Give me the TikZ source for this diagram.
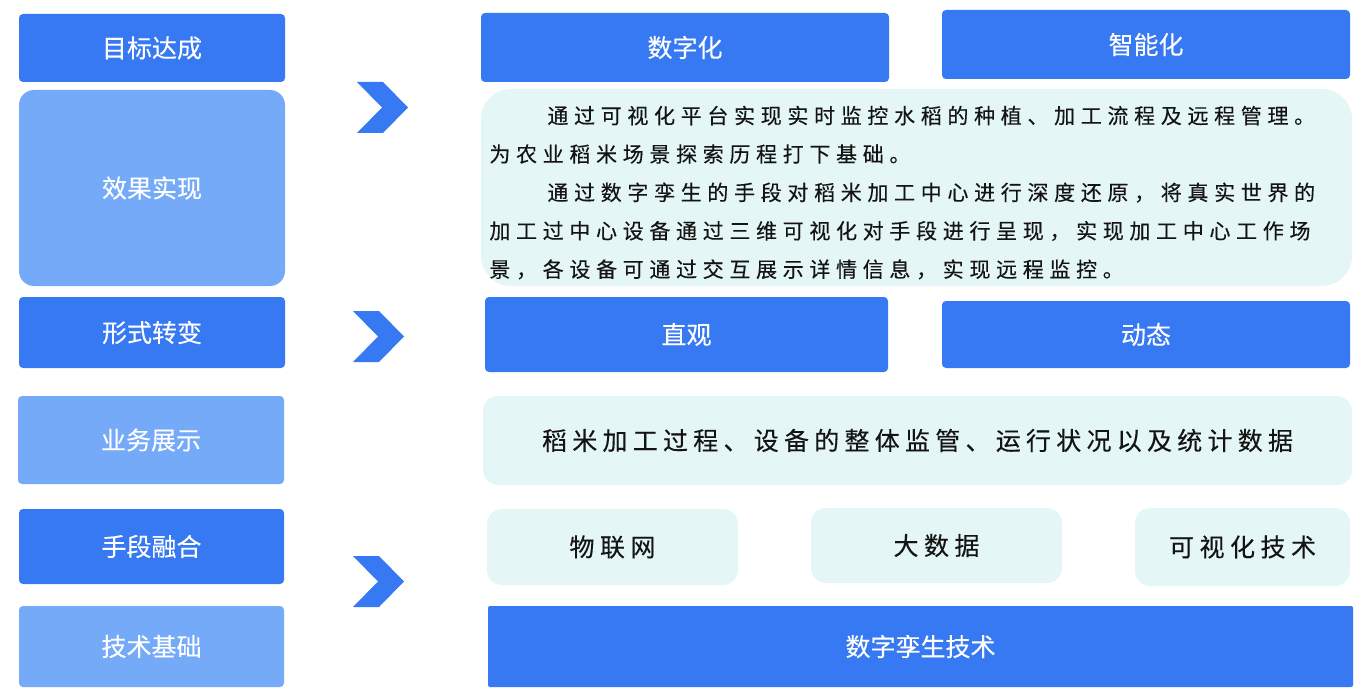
\documentclass[tikz,border=0pt]{standalone}
\usepackage{fontspec}
\setmainfont{Noto Sans CJK SC}
\newfontfamily\labelfont[FakeBold=0.15]{Noto Sans CJK SC}
\newfontfamily\parafont[LetterSpace=27,FakeBold=0.25]{Noto Sans CJK SC}
\newfontfamily\tagfont[LetterSpace=22,FakeBold=0.25]{Noto Sans CJK SC}
\newfontfamily\scopefont[LetterSpace=21,FakeBold=0.25]{Noto Sans CJK SC}
\usetikzlibrary{positioning}
\definecolor{bluedk}{RGB}{55,121,242}
\definecolor{bluelt}{RGB}{116,170,247}
\definecolor{cyanbg}{RGB}{228,246,246}
\definecolor{ink}{RGB}{20,20,20}
\tikzset{
  dkbox/.style={fill=bluedk, rounded corners=2pt, text=white, inner sep=0pt,
    font=\labelfont\fontsize{12.5}{15}\selectfont},
  ltbox/.style={dkbox, fill=bluelt},
  cybox/.style={fill=cyanbg, rounded corners=7.5pt, text=ink, inner sep=0pt,
    font=\tagfont\fontsize{12.5}{15}\selectfont},
  paraline/.style={anchor=base west, inner sep=0pt, text=ink,
    font=\parafont\fontsize{10.5}{12}\selectfont},
  chev/.style={fill=bluedk}
}

\begin{document}
\begin{tikzpicture}[x=1pt,y=-1pt]
  \useasboundingbox (0,0) rectangle (684,350);

  % left column
  \node[dkbox, minimum width=133pt, minimum height=34pt] (goal) at (76,24) {目标达成};
  \node[ltbox, rounded corners=7.5pt, minimum width=133pt, minimum height=98pt] (effect) at (76,94) {效果实现};
  \node[dkbox, minimum width=133pt, minimum height=35.5pt] (form) at (76,166.25) {形式转变};
  \node[ltbox, minimum width=133pt, minimum height=44pt] (show) at (75.5,220) {业务展示};
  \node[dkbox, minimum width=132.5pt, minimum height=37.5pt] (means) at (75.75,273.25) {手段融合};
  \node[ltbox, minimum width=132.5pt, minimum height=40.5pt] (base) at (75.75,323.25) {技术基础};

  % chevrons
  \foreach \cx/\cy in {178.5/41, 176.5/155.5, 176.5/278}
    \fill[chev] (\cx,\cy) -- ++(13,0) -- ++(12.5,12.75) -- ++(-12.5,12.75)
      -- ++(-13,0) -- ++(12.5,-12.75) -- cycle;

  % goal row
  \node[dkbox, minimum width=204pt, minimum height=34.5pt] (digit) at (342.5,23.75) {数字化};
  \node[dkbox, minimum width=204pt, minimum height=34.5pt] (smart) at (573,22.25) {智能化};

  % effect text
  \node[cybox, rounded corners=15pt, minimum width=435.5pt, minimum height=98.5pt] (desc) at (458.25,93.75) {};
  \node[paraline] (l1) at (273.5,61.8) {通过可视化平台实现实时监控水稻的种植、加工流程及远程管理。};
  \node[paraline] (l2) at (244.5,81.0) {为农业稻米场景探索历程打下基础。};
  \node[paraline] (l3) at (273.5,100.2) {通过数字孪生的手段对稻米加工中心进行深度还原，将真实世界的};
  \node[paraline] (l4) at (244.5,119.4) {加工过中心设备通过三维可视化对手段进行呈现，实现加工中心工作场};
  \node[paraline] (l5) at (244.5,138.6) {景，各设备可通过交互展示详情信息，实现远程监控。};

  % form row
  \node[dkbox, minimum width=201.5pt, minimum height=37.5pt] (direct) at (343.25,167.25) {直观};
  \node[dkbox, minimum width=204pt, minimum height=33.5pt] (dyn) at (573,167.25) {动态};

  % business row
  \node[cybox, font=\scopefont\fontsize{12.5}{15}\selectfont, minimum width=434.5pt, minimum height=44.5pt] (scope) at (458.75,220.25) {稻米加工过程、设备的整体监管、运行状况以及统计数据};

  % means row
  \node[cybox, minimum width=125.5pt, minimum height=38pt] (iot) at (306.25,273.5) {物联网};
  \node[cybox, minimum width=125.5pt, minimum height=37.5pt] (bigdata) at (468.25,272.75) {大数据};
  \node[cybox, minimum width=107.5pt, minimum height=39pt] (vis) at (621.25,273.5) {可视化技术};

  % base row
  \node[dkbox, rounded corners=1pt, minimum width=432.5pt, minimum height=40.5pt] (twin) at (460.25,323.25) {数字孪生技术};
\end{tikzpicture}
\end{document}
